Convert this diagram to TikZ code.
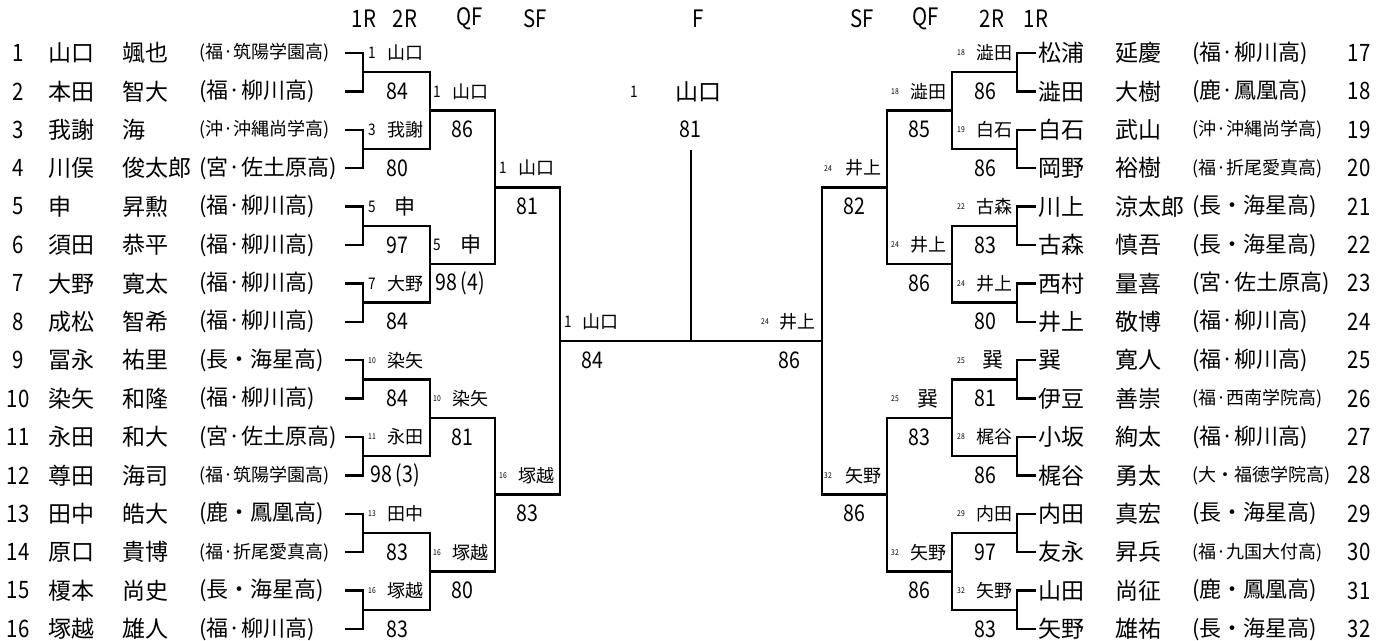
\documentclass[tikz,border=0pt]{standalone}
\usepackage{fontspec}
\setmainfont{Noto Sans CJK JP}
\newfontfamily\numfont[FakeStretch=0.85]{Noto Sans CJK JP}

\tikzset{
  every node/.style={inner sep=0pt},
  brk/.style={line width=1.2pt},
  hdr/.style={font=\numfont\fontsize{12}{12}\selectfont},
  rnum/.style={font=\numfont\fontsize{12}{12}\selectfont},
  pname/.style={anchor=west, font=\fontsize{11.5}{12}\selectfont},
  school/.style={anchor=west, font=\fontsize{11}{12}\selectfont},
  schoolsm/.style={anchor=west, font=\fontsize{9}{9}\selectfont},
  seed/.style={font=\numfont\fontsize{8}{8}\selectfont},
  seedsm/.style={font=\numfont\fontsize{4}{4}\selectfont},
  wname/.style={font=\fontsize{9}{9}\selectfont},
  wbig/.style={font=\fontsize{10.5}{11}\selectfont},
  pts/.style={font=\numfont\fontsize{11.5}{12}\selectfont},
}

\begin{document}
\begin{tikzpicture}[x=0.5pt, y=-0.5pt]
	\useasboundingbox (0,0) rectangle (1388,641);

	% round titles
	\node[hdr] (t1) at (364,19) {1R};
	\node[hdr] (t2) at (405,19) {2R};
	\node[hdr] (t3) at (470,19) {QF};
	\node[hdr] (t4) at (535,19) {SF};
	\node[hdr] (t5) at (698,19) {F};
	\node[hdr] (t6) at (862,19) {SF};
	\node[hdr] (t7) at (926,19) {QF};
	\node[hdr] (t8) at (992,19) {2R};
	\node[hdr] (t9) at (1036,19) {1R};

	% left half, players 1-16
	\node[rnum] (n1) at (18,53) {1};
	\node[pname] (s1) at (48,53) {山口};
	\node[pname] (g1) at (122,53) {颯也};
	\node[schoolsm] (h1) at (199,53) {(福·筑陽学園高)};
	\node[rnum] (n2) at (18,91.4) {2};
	\node[pname] (s2) at (48,91.4) {本田};
	\node[pname] (g2) at (122,91.4) {智大};
	\node[school] (h2) at (199,91.4) {(福·柳川高)};
	\node[rnum] (n3) at (18,129.8) {3};
	\node[pname] (s3) at (48,129.8) {我謝};
	\node[pname] (g3) at (122,129.8) {海};
	\node[schoolsm] (h3) at (199,129.8) {(沖·沖縄尚学高)};
	\node[rnum] (n4) at (18,168.2) {4};
	\node[pname] (s4) at (48,168.2) {川俣};
	\node[pname] (g4) at (122,168.2) {俊太郎};
	\node[school] (h4) at (199,168.2) {(宮·佐土原高)};
	\node[rnum] (n5) at (18,206.6) {5};
	\node[pname] (s5) at (48,206.6) {申};
	\node[pname] (g5) at (122,206.6) {昇勲};
	\node[school] (h5) at (199,206.6) {(福·柳川高)};
	\node[rnum] (n6) at (18,245) {6};
	\node[pname] (s6) at (48,245) {須田};
	\node[pname] (g6) at (122,245) {恭平};
	\node[school] (h6) at (199,245) {(福·柳川高)};
	\node[rnum] (n7) at (18,283.4) {7};
	\node[pname] (s7) at (48,283.4) {大野};
	\node[pname] (g7) at (122,283.4) {寛太};
	\node[school] (h7) at (199,283.4) {(福·柳川高)};
	\node[rnum] (n8) at (18,321.8) {8};
	\node[pname] (s8) at (48,321.8) {成松};
	\node[pname] (g8) at (122,321.8) {智希};
	\node[school] (h8) at (199,321.8) {(福·柳川高)};
	\node[rnum] (n9) at (18,360.2) {9};
	\node[pname] (s9) at (48,360.2) {冨永};
	\node[pname] (g9) at (122,360.2) {祐里};
	\node[school] (h9) at (199,360.2) {(長・海星高)};
	\node[rnum] (n10) at (18,398.6) {10};
	\node[pname] (s10) at (48,398.6) {染矢};
	\node[pname] (g10) at (122,398.6) {和隆};
	\node[school] (h10) at (199,398.6) {(福·柳川高)};
	\node[rnum] (n11) at (18,437) {11};
	\node[pname] (s11) at (48,437) {永田};
	\node[pname] (g11) at (122,437) {和大};
	\node[school] (h11) at (199,437) {(宮·佐土原高)};
	\node[rnum] (n12) at (18,475.4) {12};
	\node[pname] (s12) at (48,475.4) {尊田};
	\node[pname] (g12) at (122,475.4) {海司};
	\node[schoolsm] (h12) at (199,475.4) {(福·筑陽学園高)};
	\node[rnum] (n13) at (18,513.8) {13};
	\node[pname] (s13) at (48,513.8) {田中};
	\node[pname] (g13) at (122,513.8) {皓大};
	\node[school] (h13) at (199,513.8) {(鹿・鳳凰高)};
	\node[rnum] (n14) at (18,552.2) {14};
	\node[pname] (s14) at (48,552.2) {原口};
	\node[pname] (g14) at (122,552.2) {貴博};
	\node[schoolsm] (h14) at (199,552.2) {(福·折尾愛真高)};
	\node[rnum] (n15) at (18,590.6) {15};
	\node[pname] (s15) at (48,590.6) {榎本};
	\node[pname] (g15) at (122,590.6) {尚史};
	\node[school] (h15) at (199,590.6) {(長・海星高)};
	\node[rnum] (n16) at (18,629) {16};
	\node[pname] (s16) at (48,629) {塚越};
	\node[pname] (g16) at (122,629) {雄人};
	\node[school] (h16) at (199,629) {(福·柳川高)};

	% right half, players 17-32
	\node[pname] (s17) at (1038,53) {松浦};
	\node[pname] (g17) at (1115,53) {延慶};
	\node[school] (h17) at (1192,53) {(福·柳川高)};
	\node[rnum] (n17) at (1359,53) {17};
	\node[pname] (s18) at (1038,91.4) {澁田};
	\node[pname] (g18) at (1115,91.4) {大樹};
	\node[school] (h18) at (1192,91.4) {(鹿·鳳凰高)};
	\node[rnum] (n18) at (1359,91.4) {18};
	\node[pname] (s19) at (1038,129.8) {白石};
	\node[pname] (g19) at (1115,129.8) {武山};
	\node[schoolsm] (h19) at (1192,129.8) {(沖·沖縄尚学高)};
	\node[rnum] (n19) at (1359,129.8) {19};
	\node[pname] (s20) at (1038,168.2) {岡野};
	\node[pname] (g20) at (1115,168.2) {裕樹};
	\node[schoolsm] (h20) at (1192,168.2) {(福·折尾愛真高)};
	\node[rnum] (n20) at (1359,168.2) {20};
	\node[pname] (s21) at (1038,206.6) {川上};
	\node[pname] (g21) at (1115,206.6) {涼太郎};
	\node[school] (h21) at (1192,206.6) {(長・海星高)};
	\node[rnum] (n21) at (1359,206.6) {21};
	\node[pname] (s22) at (1038,245) {古森};
	\node[pname] (g22) at (1115,245) {慎吾};
	\node[school] (h22) at (1192,245) {(長・海星高)};
	\node[rnum] (n22) at (1359,245) {22};
	\node[pname] (s23) at (1038,283.4) {西村};
	\node[pname] (g23) at (1115,283.4) {量喜};
	\node[school] (h23) at (1192,283.4) {(宮·佐土原高)};
	\node[rnum] (n23) at (1359,283.4) {23};
	\node[pname] (s24) at (1038,321.8) {井上};
	\node[pname] (g24) at (1115,321.8) {敬博};
	\node[school] (h24) at (1192,321.8) {(福·柳川高)};
	\node[rnum] (n24) at (1359,321.8) {24};
	\node[pname] (s25) at (1038,360.2) {巽};
	\node[pname] (g25) at (1115,360.2) {寛人};
	\node[school] (h25) at (1192,360.2) {(福·柳川高)};
	\node[rnum] (n25) at (1359,360.2) {25};
	\node[pname] (s26) at (1038,398.6) {伊豆};
	\node[pname] (g26) at (1115,398.6) {善崇};
	\node[schoolsm] (h26) at (1192,398.6) {(福·西南学院高)};
	\node[rnum] (n26) at (1359,398.6) {26};
	\node[pname] (s27) at (1038,437) {小坂};
	\node[pname] (g27) at (1115,437) {絢太};
	\node[school] (h27) at (1192,437) {(福·柳川高)};
	\node[rnum] (n27) at (1359,437) {27};
	\node[pname] (s28) at (1038,475.4) {梶谷};
	\node[pname] (g28) at (1115,475.4) {勇太};
	\node[schoolsm] (h28) at (1192,475.4) {(大・福徳学院高)};
	\node[rnum] (n28) at (1359,475.4) {28};
	\node[pname] (s29) at (1038,513.8) {内田};
	\node[pname] (g29) at (1115,513.8) {真宏};
	\node[school] (h29) at (1192,513.8) {(長・海星高)};
	\node[rnum] (n29) at (1359,513.8) {29};
	\node[pname] (s30) at (1038,552.2) {友永};
	\node[pname] (g30) at (1115,552.2) {昇兵};
	\node[schoolsm] (h30) at (1192,552.2) {(福·九国大付高)};
	\node[rnum] (n30) at (1359,552.2) {30};
	\node[pname] (s31) at (1038,590.6) {山田};
	\node[pname] (g31) at (1115,590.6) {尚征};
	\node[school] (h31) at (1192,590.6) {(鹿・鳳凰高)};
	\node[rnum] (n31) at (1359,590.6) {31};
	\node[pname] (s32) at (1038,629) {矢野};
	\node[pname] (g32) at (1115,629) {雄祐};
	\node[school] (h32) at (1192,629) {(長・海星高)};
	\node[rnum] (n32) at (1359,629) {32};

	% bracket points
	\coordinate (p1) at (345,53);
	\coordinate (p2) at (345,91.4);
	\coordinate (p3) at (345,129.8);
	\coordinate (p4) at (345,168.2);
	\coordinate (p5) at (345,206.6);
	\coordinate (p6) at (345,245);
	\coordinate (p7) at (345,283.4);
	\coordinate (p8) at (345,321.8);
	\coordinate (p9) at (345,360.2);
	\coordinate (p10) at (345,398.6);
	\coordinate (p11) at (345,437);
	\coordinate (p12) at (345,475.4);
	\coordinate (p13) at (345,513.8);
	\coordinate (p14) at (345,552.2);
	\coordinate (p15) at (345,590.6);
	\coordinate (p16) at (345,629);
	\coordinate (p17) at (1036,53);
	\coordinate (p18) at (1036,91.4);
	\coordinate (p19) at (1036,129.8);
	\coordinate (p20) at (1036,168.2);
	\coordinate (p21) at (1036,206.6);
	\coordinate (p22) at (1036,245);
	\coordinate (p23) at (1036,283.4);
	\coordinate (p24) at (1036,321.8);
	\coordinate (p25) at (1036,360.2);
	\coordinate (p26) at (1036,398.6);
	\coordinate (p27) at (1036,437);
	\coordinate (p28) at (1036,475.4);
	\coordinate (p29) at (1036,513.8);
	\coordinate (p30) at (1036,552.2);
	\coordinate (p31) at (1036,590.6);
	\coordinate (p32) at (1036,629);

	\coordinate (ja1) at (363,72.2);
	\coordinate (ja2) at (363,149);
	\coordinate (ja3) at (363,225.8);
	\coordinate (ja4) at (363,302.6);
	\coordinate (ja5) at (363,379.4);
	\coordinate (ja6) at (363,456.2);
	\coordinate (ja7) at (363,533);
	\coordinate (ja8) at (363,609.8);
	\coordinate (jb1) at (430,110.6);
	\coordinate (jb2) at (430,264.2);
	\coordinate (jb3) at (430,417.8);
	\coordinate (jb4) at (430,571.4);
	\coordinate (jc1) at (495,187.4);
	\coordinate (jc2) at (495,494.6);
	\coordinate (jd) at (560,341);

	\coordinate (ka1) at (1017,72.2);
	\coordinate (ka2) at (1017,149);
	\coordinate (ka3) at (1017,225.8);
	\coordinate (ka4) at (1017,302.6);
	\coordinate (ka5) at (1017,379.4);
	\coordinate (ka6) at (1017,456.2);
	\coordinate (ka7) at (1017,533);
	\coordinate (ka8) at (1017,609.8);
	\coordinate (kb1) at (952,110.6);
	\coordinate (kb2) at (952,264.2);
	\coordinate (kb3) at (952,417.8);
	\coordinate (kb4) at (952,571.4);
	\coordinate (kc1) at (887,187.4);
	\coordinate (kc2) at (887,494.6);
	\coordinate (kd) at (822,341);

	\coordinate (ftop) at (691,150);
	\coordinate (fmid) at (691,341);

	% left bracket
	\draw[brk] (p1) -| (ja1) |- (p2);
	\draw[brk] (p3) -| (ja2) |- (p4);
	\draw[brk] (p5) -| (ja3) |- (p6);
	\draw[brk] (p7) -| (ja4) |- (p8);
	\draw[brk] (p9) -| (ja5) |- (p10);
	\draw[brk] (p11) -| (ja6) |- (p12);
	\draw[brk] (p13) -| (ja7) |- (p14);
	\draw[brk] (p15) -| (ja8) |- (p16);
	\draw[brk] (ja1) -| (jb1) |- (ja2);
	\draw[brk] (ja3) -| (jb2) |- (ja4);
	\draw[brk] (ja5) -| (jb3) |- (ja6);
	\draw[brk] (ja7) -| (jb4) |- (ja8);
	\draw[brk] (jb1) -| (jc1) |- (jb2);
	\draw[brk] (jb3) -| (jc2) |- (jb4);
	\draw[brk] (jc1) -| (jd) |- (jc2);

	% right bracket
	\draw[brk] (p17) -| (ka1) |- (p18);
	\draw[brk] (p19) -| (ka2) |- (p20);
	\draw[brk] (p21) -| (ka3) |- (p22);
	\draw[brk] (p23) -| (ka4) |- (p24);
	\draw[brk] (p25) -| (ka5) |- (p26);
	\draw[brk] (p27) -| (ka6) |- (p28);
	\draw[brk] (p29) -| (ka7) |- (p30);
	\draw[brk] (p31) -| (ka8) |- (p32);
	\draw[brk] (ka1) -| (kb1) |- (ka2);
	\draw[brk] (ka3) -| (kb2) |- (ka4);
	\draw[brk] (ka5) -| (kb3) |- (ka6);
	\draw[brk] (ka7) -| (kb4) |- (ka8);
	\draw[brk] (kb1) -| (kc1) |- (kb2);
	\draw[brk] (kb3) -| (kc2) |- (kb4);
	\draw[brk] (kc1) -| (kd) |- (kc2);

	% final
	\draw[brk] (jd) -- (kd);
	\draw[brk] (ftop) -- (fmid);

	% left 2R
	\node[seed] (l2a-s) at (372,53) {1};
	\node[wname] (l2a) at (405,53) {山口};
	\node[pts] (l2a-p) at (397,91.4) {84};
	\node[seed] (l2b-s) at (372,129.8) {3};
	\node[wname] (l2b) at (405,129.8) {我謝};
	\node[pts] (l2b-p) at (397,168.2) {80};
	\node[seed] (l2c-s) at (372,206.6) {5};
	\node[wbig] (l2c) at (405,206.6) {申};
	\node[pts] (l2c-p) at (397,245) {97};
	\node[seed] (l2d-s) at (372,283.4) {7};
	\node[wname] (l2d) at (405,283.4) {大野};
	\node[pts] (l2d-p) at (397,321.8) {84};
	\node[seedsm] (l2e-s) at (372,360.2) {10};
	\node[wname] (l2e) at (405,360.2) {染矢};
	\node[pts] (l2e-p) at (397,398.6) {84};
	\node[seedsm] (l2f-s) at (372,437) {11};
	\node[wname] (l2f) at (405,437) {永田};
	\node[pts] (l2f-p) at (395,475.4) {98\,(3)};
	\node[seedsm] (l2g-s) at (372,513.8) {13};
	\node[wname] (l2g) at (405,513.8) {田中};
	\node[pts] (l2g-p) at (397,552.2) {83};
	\node[seedsm] (l2h-s) at (372,590.6) {16};
	\node[wname] (l2h) at (405,590.6) {塚越};
	\node[pts] (l2h-p) at (397,629) {83};

	% left QF
	\node[seed] (lqa-s) at (437,91.4) {1};
	\node[wname] (lqa) at (470,91.4) {山口};
	\node[pts] (lqa-p) at (462,129.8) {86};
	\node[seed] (lqb-s) at (437,245) {5};
	\node[wbig] (lqb) at (471,245) {申};
	\node[pts] (lqb-p) at (460,283.4) {98\,(4)};
	\node[seedsm] (lqc-s) at (437,398.6) {10};
	\node[wname] (lqc) at (470,398.6) {染矢};
	\node[pts] (lqc-p) at (462,437) {81};
	\node[seedsm] (lqd-s) at (437,552.2) {16};
	\node[wname] (lqd) at (470,552.2) {塚越};
	\node[pts] (lqd-p) at (462,590.6) {80};

	% left SF
	\node[seed] (lsa-s) at (503,168.2) {1};
	\node[wname] (lsa) at (536,168.2) {山口};
	\node[pts] (lsa-p) at (527,206.6) {81};
	\node[seedsm] (lsb-s) at (503,475.4) {16};
	\node[wname] (lsb) at (536,475.4) {塚越};
	\node[pts] (lsb-p) at (527,513.8) {83};

	% final
	\node[seed] (lf-s) at (568,321.8) {1};
	\node[wname] (lf) at (600,321.8) {山口};
	\node[pts] (lf-p) at (592,360.2) {84};
	\node[seedsm] (rf-s) at (765,321.8) {24};
	\node[wname] (rf) at (797,321.8) {井上};
	\node[pts] (rf-p) at (789,360.2) {86};
	\node[seed] (ch-s) at (634,91.4) {1};
	\node[pname, anchor=center] (ch) at (698,91.4) {山口};
	\node[pts] (ch-p) at (690,129.8) {81};

	% right SF
	\node[seedsm] (rsa-s) at (828,168.2) {24};
	\node[wname] (rsa) at (863,168.2) {井上};
	\node[pts] (rsa-p) at (854,206.6) {82};
	\node[seedsm] (rsb-s) at (828,475.4) {32};
	\node[wname] (rsb) at (863,475.4) {矢野};
	\node[pts] (rsb-p) at (854,513.8) {86};

	% right QF
	\node[seedsm] (rqa-s) at (895,91.4) {18};
	\node[wname] (rqa) at (928,91.4) {澁田};
	\node[pts] (rqa-p) at (919,129.8) {85};
	\node[seedsm] (rqb-s) at (895,245) {24};
	\node[wname] (rqb) at (928,245) {井上};
	\node[pts] (rqb-p) at (919,283.4) {86};
	\node[seedsm] (rqc-s) at (895,398.6) {25};
	\node[wbig] (rqc) at (928,398.6) {巽};
	\node[pts] (rqc-p) at (919,437) {83};
	\node[seedsm] (rqd-s) at (895,552.2) {32};
	\node[wname] (rqd) at (928,552.2) {矢野};
	\node[pts] (rqd-p) at (919,590.6) {86};

	% right 2R
	\node[seedsm] (r2a-s) at (961,53) {18};
	\node[wname] (r2a) at (994,53) {澁田};
	\node[pts] (r2a-p) at (985,91.4) {86};
	\node[seedsm] (r2b-s) at (961,129.8) {19};
	\node[wname] (r2b) at (994,129.8) {白石};
	\node[pts] (r2b-p) at (985,168.2) {86};
	\node[seedsm] (r2c-s) at (961,206.6) {22};
	\node[wname] (r2c) at (994,206.6) {古森};
	\node[pts] (r2c-p) at (985,245) {83};
	\node[seedsm] (r2d-s) at (961,283.4) {24};
	\node[wname] (r2d) at (994,283.4) {井上};
	\node[pts] (r2d-p) at (985,321.8) {80};
	\node[seedsm] (r2e-s) at (961,360.2) {25};
	\node[wbig] (r2e) at (993,360.2) {巽};
	\node[pts] (r2e-p) at (985,398.6) {81};
	\node[seedsm] (r2f-s) at (961,437) {28};
	\node[wname] (r2f) at (994,437) {梶谷};
	\node[pts] (r2f-p) at (985,475.4) {86};
	\node[seedsm] (r2g-s) at (961,513.8) {29};
	\node[wname] (r2g) at (994,513.8) {内田};
	\node[pts] (r2g-p) at (985,552.2) {97};
	\node[seedsm] (r2h-s) at (961,590.6) {32};
	\node[wname] (r2h) at (994,590.6) {矢野};
	\node[pts] (r2h-p) at (985,629) {83};
\end{tikzpicture}
\end{document}
